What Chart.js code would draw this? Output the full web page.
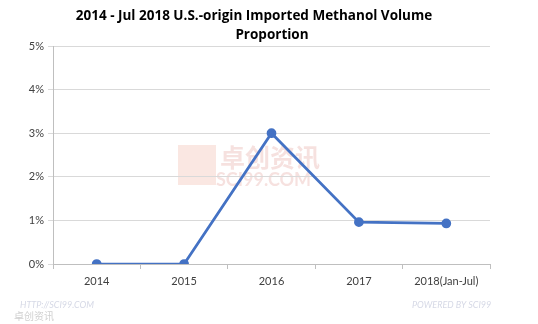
<!DOCTYPE html>
<html>
<head>
<meta charset="utf-8">
<script src="https://cdn.jsdelivr.net/npm/chart.js@4/dist/chart.umd.min.js"></script>
<style>
  html, body { margin: 0; padding: 0; background: #fff; }
  #wrap { width: 538px; height: 324px; position: relative; }
</style>
</head>
<body>
<div id="wrap"><canvas id="chart-methanol" width="538" height="324"></canvas></div>
<script>
// Data
const years = ['2014', '2015', '2016', '2017', '2018(Jan-Jul)'];
const usShare = [0, 0, 3.0, 0.96, 0.93];   // % of imported methanol volume
const titleLines = ['2014 - Jul 2018 U.S.-origin Imported Methanol Volume', 'Proportion'];

const FONT = 'Lato, "Open Sans", sans-serif';

// title + faint watermarks drawn by hand (Chart.js title centres on the full canvas)
const decorPlugin = {
  id: 'decor',
  beforeDraw(chart) {
    const c = chart.ctx;
    c.save();
    // centre watermark
    c.globalAlpha = 0.15;
    c.fillStyle = '#e0603a';
    c.fillRect(178, 145, 38, 40);
    c.fillStyle = '#c0392b';
    c.font = 'bold 25px "Noto Sans CJK SC", sans-serif';
    c.textBaseline = 'middle';
    c.fillText('卓创资讯', 220, 157);
    c.font = 'bold 18px ' + FONT;
    c.fillText('SCI99.COM', 216, 180);
    c.restore();
  },
  afterDraw(chart) {
    const c = chart.ctx;
    c.save();
    c.fillStyle = '#000';
    c.font = 'bold 13.5px "Open Sans", sans-serif';
    c.textAlign = 'center';
    c.textBaseline = 'middle';
    c.fillText(titleLines[0], 254, 16);
    c.fillText(titleLines[1], 272, 35);
    // footer marks
    c.font = 'italic 9px ' + FONT;
    c.fillStyle = '#d6d9e6';
    c.textAlign = 'left';
    c.fillText('POWERED BY SCI99', 412, 305);
    c.fillText('HTTP://SCI99.COM', 20, 305);
    c.font = '10px "Noto Sans CJK SC", sans-serif';
    c.fillStyle = '#d0d0d0';
    c.fillText('卓创资讯', 14, 316);
    c.restore();
  }
};

new Chart(document.getElementById('chart-methanol'), {
  type: 'line',
  data: {
    labels: years,
    datasets: [{
      data: usShare,
      borderColor: '#4472C4',
      backgroundColor: '#4472C4',
      borderWidth: 2.75,
      pointRadius: 3.5,
      pointHoverRadius: 3.5,
      tension: 0,
      fill: false
    }]
  },
  options: {
    responsive: false,
    animation: false,
    layout: { padding: { top: 46, right: 48, bottom: 0, left: 0 } },
    plugins: {
      legend: { display: false },
      title: { display: false },
      tooltip: { enabled: false }
    },
    scales: {
      x: {
        offset: true,
        grid: { drawOnChartArea: false, drawTicks: true, tickLength: 5, color: '#bfbfbf', offset: true },
        border: { color: '#bfbfbf' },
        ticks: { color: '#404040', font: { family: FONT, size: 11 }, padding: 6, maxRotation: 0 },
        afterFit(scale) { scale.height = 60; }
      },
      y: {
        min: 0,
        max: 5,
        ticks: { stepSize: 1, color: '#404040', font: { family: FONT, size: 11 }, padding: 4,
                 callback: v => v + '%' },
        grid: { color: '#d9d9d9', tickLength: 5 },
        border: { color: '#bfbfbf' },
        afterFit(scale) { scale.width = 53; }
      }
    }
  },
  plugins: [decorPlugin]
});
</script>
</body>
</html>
